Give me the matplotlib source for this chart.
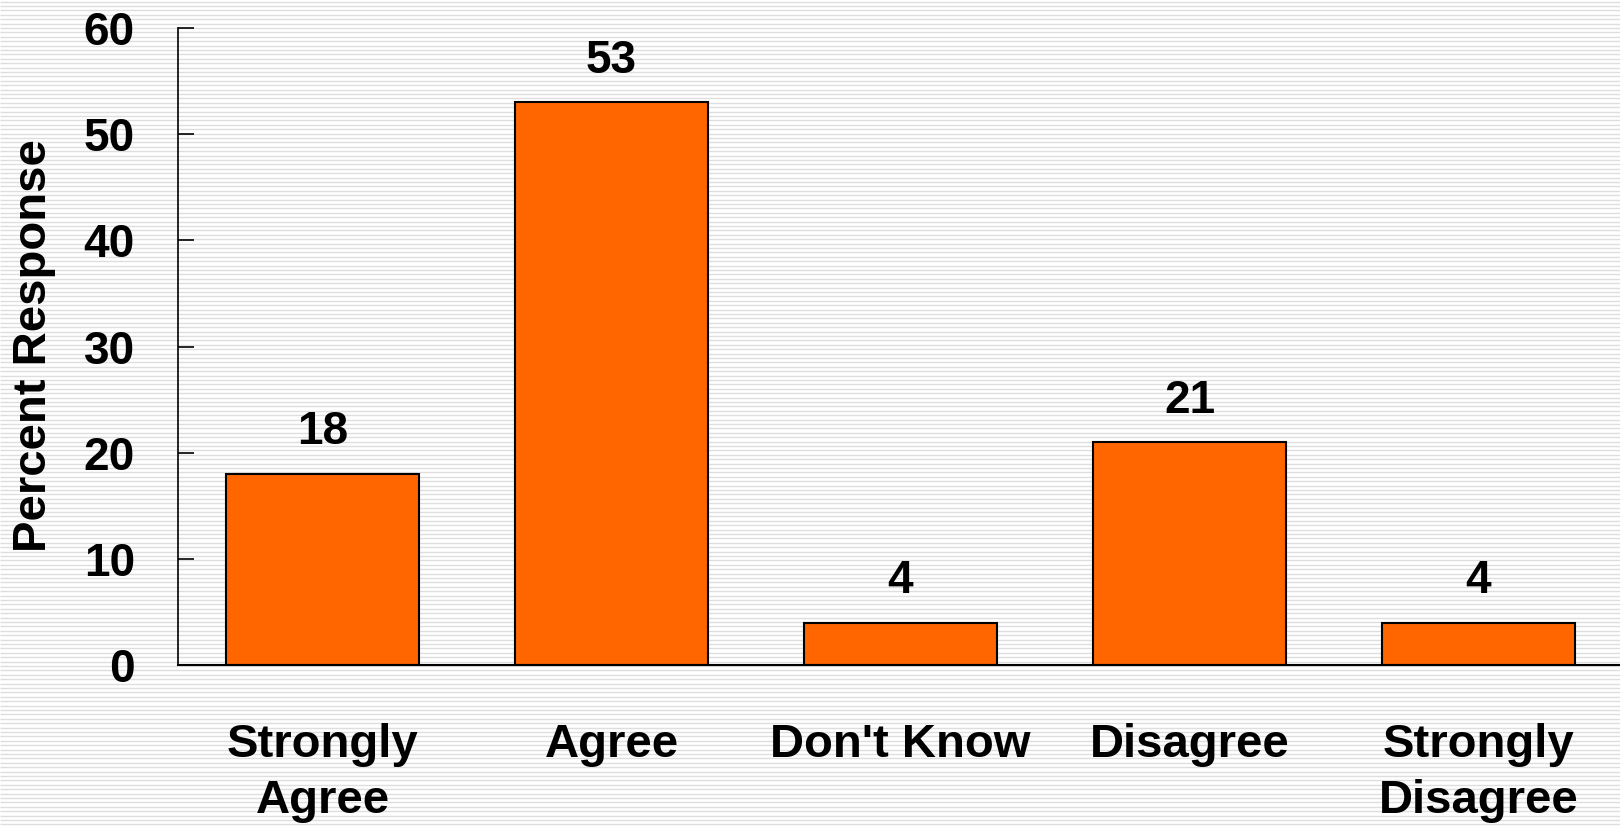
import numpy as np
import matplotlib
matplotlib.use("Agg")
import matplotlib.pyplot as plt

categories = ["Strongly\nAgree", "Agree", "Don't Know", "Disagree", "Strongly\nDisagree"]
values = [18, 53, 4, 21, 4]
yticks = [0, 10, 20, 30, 40, 50, 60]

plt.rcParams['font.family'] = ['Liberation Sans', 'DejaVu Sans']
plt.rcParams['font.weight'] = 'bold'

W, H = 1620, 827
fig = plt.figure(figsize=(W / 100, H / 100), dpi=100)
fig.patch.set_facecolor('white')

# striped background
bg = fig.add_axes([0, 0, 1, 1], zorder=0)
bg.set_xlim(0, W)
bg.set_ylim(H, 0)
bg.axis('off')
bg.hlines(np.arange(1.5, H, 4.4), 0, W, colors='#dedede', linewidth=1.0)

ax = fig.add_axes([178 / W, 1 - 665 / H, (1623 - 178) / W, (665 - 28) / H], zorder=1)
ax.patch.set_alpha(0)
x = np.arange(len(categories))
ax.bar(x, values, width=0.667, color='#FF6600', edgecolor='black', linewidth=1.5, zorder=2)

for xi, v in zip(x, values):
    ax.annotate(str(v), (xi, v), xytext=(0, 14), textcoords='offset points',
                ha='center', va='bottom', fontsize=33, fontweight='bold')

ax.set_xlim(-0.5, 4.5)
ax.set_ylim(0, 60)
ax.set_yticks(yticks)
ax.set_yticklabels([str(t) for t in yticks])
ax.set_xticks(x)
ax.set_xticklabels(categories, linespacing=1.35)
ax.tick_params(axis='y', direction='in', length=11.5, width=1.2, pad=31, labelsize=33)
ax.tick_params(axis='x', length=0, pad=42, labelsize=34)
for lab in ax.get_xticklabels() + ax.get_yticklabels():
    lab.set_fontweight('bold')

ax.spines['top'].set_visible(False)
ax.spines['right'].set_visible(False)
ax.spines['left'].set_linewidth(1.2)
ax.spines['bottom'].set_linewidth(1.5)

fig.text(34 / W, 1 - 346 / H, 'Percent Response', rotation=90, ha='center', va='center',
         fontsize=34, fontweight='bold', zorder=3)

fig.savefig('out.png', dpi=100)
